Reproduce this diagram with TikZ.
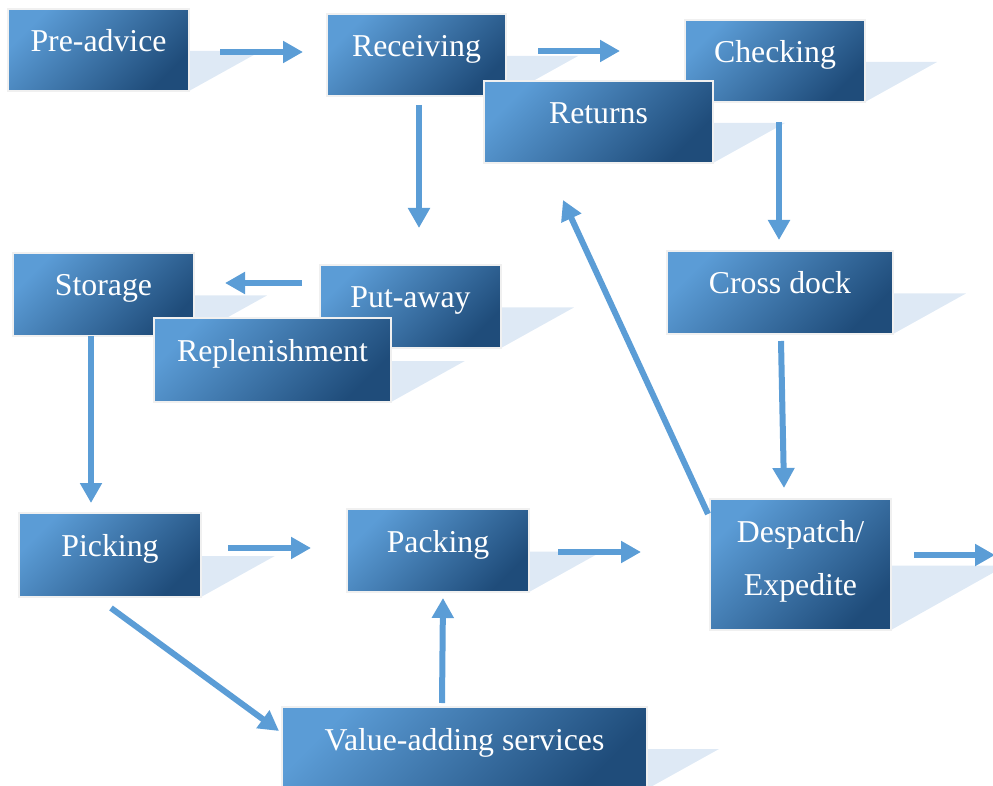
\documentclass[tikz,border=0pt]{standalone}
\usepackage{fontspec}
\setmainfont{Liberation Serif}
\usetikzlibrary{arrows.meta,calc}
\definecolor{boxlight}{RGB}{91,156,214}
\definecolor{boxdark}{RGB}{31,76,122}
\definecolor{shcol}{RGB}{222,233,245}
\definecolor{bordc}{RGB}{240,240,240}
\definecolor{arrc}{RGB}{91,157,214}
\pgfdeclarelayer{bg}
\pgfsetlayers{bg,main}
\tikzset{
  wbox/.style={anchor=north west, draw=bordc, line width=2.5pt,
    top color=boxlight, bottom color=boxdark, shading angle=45,
    inner sep=0pt, outer sep=0pt, text=white, text height=43pt,
    font=\fontsize{31.8}{53}\selectfont},
  arr/.style={draw=arrc, line width=6pt, -{Triangle[length=20pt,width=21pt]}},
}
\newcommand\wfbox[6]{%
  \pgfmathsetmacro\bw{#4-#2}%
  \pgfmathsetmacro\bd{#5-#3-43}%
  \pgfmathsetmacro\bm{(#3+#5)/2+1}%
  \pgfmathsetmacro\bt{#4+72*(#5-#3)/82}%
  \begin{pgfonlayer}{bg}\fill[shcol] (#4,\bm) -- (\bt,\bm) -- (#4,#5) -- cycle;\end{pgfonlayer}%
  \node[wbox, minimum width=\bw pt, text depth=\bd pt] (#1) at (#2,#3) {#6};}
\begin{document}
\begin{tikzpicture}[x=1pt,y=-1pt]
\useasboundingbox (0,0) rectangle (993,786);
\clip (0,0) rectangle (993,786);
\wfbox{pre}{8}{9}{189}{91}{Pre-advice}
\wfbox{rec}{327}{14}{506}{96}{Receiving}
\wfbox{chk}{685}{20}{865}{102}{Checking}
\wfbox{ret}{484}{81}{713}{163}{Returns}
\wfbox{sto}{13}{253}{194}{336}{Storage}
\wfbox{put}{320}{265}{501}{348}{Put-away}
\wfbox{rep}{154}{318}{391}{402}{Replenishment}
\wfbox{cro}{667}{251}{893}{334}{Cross dock}
\wfbox{pick}{19}{513}{201}{597}{Picking}
\wfbox{pack}{347}{509}{529}{592}{Packing}
\wfbox{des}{710}{499}{891}{630}{\begin{tabular}[t]{@{}c@{}}Despatch/\\Expedite\end{tabular}}
\wfbox{val}{282}{707}{647}{789}{Value-adding services}
\coordinate (packout) at (641,552);
\coordinate (desout) at (995,555);
% arrows
\draw[arr] ($(pre.east)+(31,2)$) -- ($(rec.west)+(-24,-3)$);
\draw[arr] ($(rec.east)+(32,-4)$) -- ($(chk.west)+(-65,-10)$);
\draw[arr] ($(rec.south)+(2.5,9)$) -- ($(put.north)+(8.5,-37)$);
\draw[arr] ($(chk.south)+(4,20)$) -- ($(cro.north)+(-1,-11)$);
\draw[arr] ($(put.west)+(-18,-23.5)$) -- ($(sto.east)+(31,-11.5)$);
\draw[arr] ($(sto.south)+(-12.5,0)$) -- ($(pick.north)+(-19,-10)$);
\draw[arr] ($(cro.south)+(1,7)$) -- ($(des.north)+(-16.5,-11)$);
\draw[arr] ($(des.north west)+(-2,15)$) -- ($(ret.south)+(-35.5,37)$);
\draw[arr] ($(pick.east)+(27,-7)$) -- ($(pack.west)+(-36,-2.5)$);
\draw[arr] ($(pack.east)+(29,1.5)$) -- (packout);
\draw[arr] ($(des.east)+(23,-9.5)$) -- (desout);
\draw[arr] ($(pick.south)+(1,11)$) -- ($(val.west)+(-3,-17)$);
\draw[arr] ($(val.north)+(-22.5,-4)$) -- ($(pack.south)+(5,6)$);
\end{tikzpicture}
\end{document}
